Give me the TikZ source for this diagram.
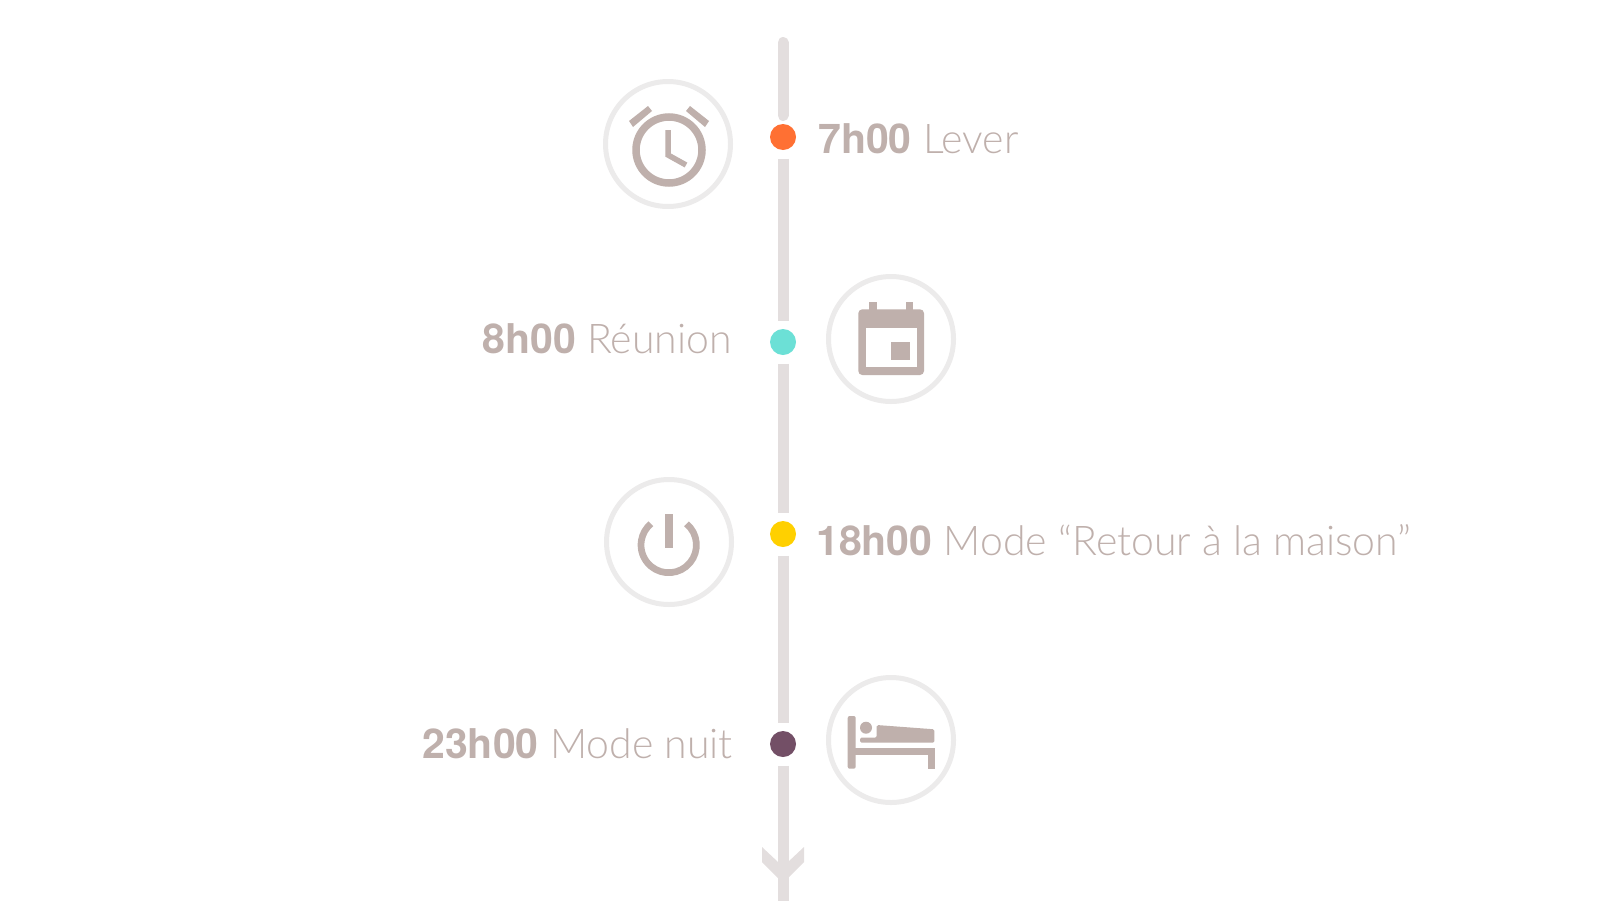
\documentclass[tikz,border=0pt]{standalone}
\usepackage{fontspec}
\setmainfont{TeX Gyre Heros}
\newfontfamily\lightfont{Lato Light}
\definecolor{axisgray}{RGB}{227,222,222}
\definecolor{ringgray}{RGB}{236,235,235}
\definecolor{icontaupe}{RGB}{191,176,172}
\definecolor{dotorange}{RGB}{255,112,51}
\definecolor{dotteal}{RGB}{108,224,214}
\definecolor{dotyellow}{RGB}{255,208,0}
\definecolor{dotplum}{RGB}{115,79,102}
\tikzset{
  ring/.style={circle,draw=ringgray,line width=5pt,fill=white,inner sep=0pt,minimum size=125pt},
  dot/.style={circle,inner sep=0pt,minimum size=26pt,outer sep=8.5pt},
  axis/.style={axisgray,line width=11pt},
  label/.style={icontaupe,font=\fontsize{41}{41}\selectfont,inner sep=0pt,anchor=base},
  icon/.style={icontaupe,line width=7pt},
  iconfill/.style={fill=icontaupe,draw=none}
}
\newcommand{\hour}[1]{\textbf{#1}}
\begin{document}
\begin{tikzpicture}[x=1pt,y=-1pt]
\useasboundingbox (0,0) rectangle (1600,900);
\coordinate (top) at (783,42.5);
\coordinate (tip) at (783,883);
% dots on the axis
\node[dot] (dotA) at (783,137) {};
\node[dot] (dotB) at (783,342) {};
\node[dot] (dotC) at (783,534) {};
\node[dot] (dotD) at (783,744) {};
\fill[dotorange] (dotA) circle (13);
\fill[dotteal] (dotB) circle (13);
\fill[dotyellow] (dotC) circle (13);
\fill[dotplum] (dotD) circle (13);
\draw[axis,line cap=round] (top) -- (dotA);
\draw[axis] (dotA) -- (dotB);
\draw[axis] (dotB) -- (dotC);
\draw[axis] (dotC) -- (dotD);
\draw[axis] (dotD) -- ([yshift=-25]tip);
\fill[axisgray] (tip) -- ++(-21,-21) -- ++(0,-15) -- ++(16,15) -- ++(10,0) -- ++(16,-15) -- ++(0,15) -- cycle;
% rings
\node[ring] (ringA) at (668,144) {};
\node[ring] (ringB) at (891,339) {};
\node[ring] (ringC) at (669,542) {};
\node[ring] (ringD) at (891,740) {};
% alarm clock
\draw[icon,line width=7.5pt] (669,150) circle (33);
\draw[icon,line width=5.5pt] (668,130) -- (668,155) -- (686,165);
\fill[icontaupe] (629,121) -- (648,106) -- (652,111) -- (633,127) -- cycle;
\fill[icontaupe] (690,106) -- (709,121) -- (705,127) -- (686,111) -- cycle;
% calendar
\fill[icontaupe,rounded corners=4] (858.3,309.3) rectangle (924,375);
\fill[white] (865.7,327.7) rectangle (916.7,367.3);
\fill[icontaupe] (891.3,342) rectangle (909.7,360.3);
\fill[icontaupe] (869.3,302.3) rectangle (876.7,310);
\fill[icontaupe] (905.7,302.3) rectangle (913.3,310);
% power
\draw[icon,line width=6.7pt] (668.7,545) ++(-50:27.7) arc[start angle=-50,end angle=230,radius=27.7];
\fill[icontaupe] (665.3,514) rectangle (672.7,548.3);
% bed
\fill[icontaupe,rounded corners=2] (847.7,768.7) -- (847.7,716) -- (855.7,716) -- (855.7,768.7) -- cycle;
\fill[icontaupe] (855,748) rectangle (935,755.3);
\fill[icontaupe] (927.7,748) rectangle (935,768.7);
\fill[icontaupe] (866,727.7) circle (6);
\fill[icontaupe,rounded corners=1.5] (876.7,725) -- (934.3,729.3) -- (934.3,742.7) -- (860,742.7) -- (860,737.7) -- (876.7,737.7) -- cycle;
% texts
\node[label,anchor=base west] (textA) at (818,153) {\hour{7h00} {\lightfont Lever}};
\node[label,anchor=base east] (textB) at (732,353) {\hour{8h00} {\lightfont Réunion}};
\node[label,anchor=base west] (textC) at (816,555) {\hour{18h00} {\lightfont Mode “Retour à la maison”}};
\node[label,anchor=base east] (textD) at (733,758) {\hour{23h00} {\lightfont Mode nuit}};
\end{tikzpicture}
\end{document}
